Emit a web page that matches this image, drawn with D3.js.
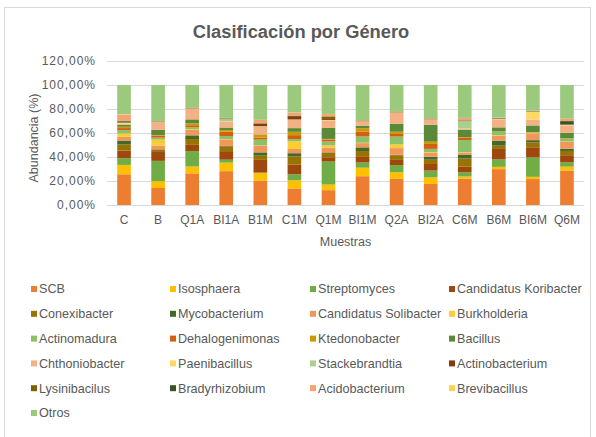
<!DOCTYPE html>
<html>
<head>
<meta charset="utf-8">
<script src="https://cdn.jsdelivr.net/npm/d3@7"></script>
<style>
  html, body { margin: 0; padding: 0; background: #fff; }
  svg { display: block; font-family: "Liberation Sans", Arial, sans-serif; }
</style>
</head>
<body>
<svg id="chart" width="596" height="437"></svg>
<script>
// Sample names (x axis)
const muestras = ["C", "B", "Q1A", "BI1A", "B1M", "C1M", "Q1M", "BI1M", "Q2A", "BI2A", "C6M", "B6M", "BI6M", "Q6M"];

// Relative abundance (%) per genus, one value per sample
const scb            = [25.6, 14.4, 26.9, 28.6, 20.8, 13.9, 12.5, 24.4, 22.2, 17.8, 22.2, 30.6, 22.2, 29.2];
const isosphaera     = [7.8, 5.8, 5.8, 7.2, 6.4, 6.9, 4.7, 7.2, 5.6, 5.6, 1.9, 1.9, 1.9, 3.3];
const streptomyces   = [5.6, 17.2, 13.1, 2.5, 0.5, 5.0, 19.4, 4.4, 6.1, 5.8, 3.6, 6.4, 16.7, 3.6];
const koribacter     = [6.4, 7.5, 5.3, 7.2, 10.8, 8.3, 3.6, 4.7, 4.4, 5.6, 4.7, 8.9, 8.6, 6.1];
const conexibacter   = [5.0, 1.7, 5.0, 3.9, 3.6, 6.7, 3.6, 5.0, 3.9, 3.6, 6.9, 2.8, 4.2, 3.6];
const mycobacterium  = [3.3, 0.5, 3.1, 0.5, 2.8, 2.8, 0.5, 3.1, 0.5, 2.5, 3.3, 4.2, 1.9, 1.9];
const solibacter     = [3.1, 3.3, 4.7, 5.6, 5.6, 3.6, 4.2, 3.6, 5.6, 3.6, 1.7, 4.4, 5.6, 5.8];
const burkholderia   = [2.8, 5.0, 0.5, 0.3, 0.3, 6.4, 1.7, 0.3, 3.1, 0.3, 0.3, 0.3, 0.3, 0.3];
const actinomadura   = [2.8, 1.7, 1.7, 2.5, 5.0, 1.9, 3.3, 5.3, 6.7, 2.8, 10.3, 2.8, 0.5, 2.2];
const dehalogenimonas= [1.7, 1.7, 1.7, 3.6, 1.7, 3.3, 1.7, 4.2, 2.2, 4.2, 2.2, 0.3, 0.3, 0.3];
const ktedonobacter  = [1.1, 0.5, 1.7, 1.4, 2.2, 2.8, 0.5, 2.8, 1.9, 1.9, 0.3, 0.3, 0.3, 0.3];
const bacillus       = [1.7, 4.4, 3.3, 2.2, 0.5, 3.1, 9.2, 1.9, 6.9, 14.4, 6.1, 3.3, 5.6, 4.7];
const chthoniobacter = [0.8, 6.1, 8.9, 5.0, 6.4, 6.9, 6.4, 3.6, 9.2, 4.2, 0.8, 6.9, 5.0, 6.1];
const paenibacillus  = [0.5, 0.2, 0.2, 0.2, 0.3, 0.2, 0.2, 0.2, 0.2, 0.2, 0.2, 0.2, 6.7, 0.2];
const stackebrandtia = [0.5, 0.2, 0.2, 1.9, 0.3, 0.2, 0.2, 0.2, 0.2, 0.2, 6.4, 0.2, 0.2, 0.2];
const actinobacterium= [0.5, 0.3, 0.3, 0.3, 2.2, 2.8, 0.8, 0.3, 0.3, 0.3, 0.3, 0.3, 0.3, 0.3];
const lysinibacilus  = [0.3, 0.2, 0.2, 0.2, 0.2, 0.3, 2.0, 0.2, 0.2, 0.2, 0.2, 0.2, 0.2, 0.2];
const bradyrhizobium = [0.6, 0.2, 0.2, 0.2, 0.2, 0.2, 0.2, 0.2, 0.2, 0.2, 0.2, 0.2, 0.2, 2.8];
const acidobacterium = [5.3, 0.2, 0.2, 0.2, 2.8, 2.5, 1.9, 0.2, 0.2, 0.2, 1.9, 0.2, 0.2, 1.9];
const brevibacillus  = [0.3, 0.1, 0.1, 0.1, 0.1, 0.1, 0.1, 0.1, 0.1, 0.1, 0.1, 0.1, 0.1, 0.1];
const otros          = [24.3, 30.5, 18.9, 27.8, 29.7, 23.1, 24.4, 29.7, 22.2, 28.1, 27.8, 27.8, 21.7, 28.6];

const generos = ["SCB", "Isosphaera", "Streptomyces", "Candidatus Koribacter",
  "Conexibacter", "Mycobacterium", "Candidatus Solibacter", "Burkholderia",
  "Actinomadura", "Dehalogenimonas", "Ktedonobacter", "Bacillus",
  "Chthoniobacter", "Paenibacillus", "Stackebrandtia", "Actinobacterium",
  "Lysinibacilus", "Bradyrhizobium", "Acidobacterium", "Brevibacillus", "Otros"];

const seriesValues = [scb, isosphaera, streptomyces, koribacter, conexibacter,
  mycobacterium, solibacter, burkholderia, actinomadura, dehalogenimonas,
  ktedonobacter, bacillus, chthoniobacter, paenibacillus, stackebrandtia,
  actinobacterium, lysinibacilus, bradyrhizobium, acidobacterium, brevibacillus, otros];

const colores = ["#ED7D31", "#FFC000", "#70AD47", "#9E480E", "#997300", "#43682B",
  "#F1975A", "#FFCD33", "#8CC168", "#D26012", "#CC9A00", "#5A8A39",
  "#F4B183", "#FFD966", "#A9D18E", "#843C0C", "#7F6000", "#375623",
  "#F3A470", "#FFD34D", "#9BC97E"];

const yTicks = [0, 0.2, 0.4, 0.6, 0.8, 1.0, 1.2];

// Table of rows, one per sample, for d3.stack
const rows = muestras.map((m, i) => {
  const r = { muestra: m };
  generos.forEach((g, j) => { r[g] = seriesValues[j][i]; });
  return r;
});

const svg = d3.select("#chart");
const textColor = "#595959";
const gridColor = "#D9D9D9";

// Outer chart frame
svg.append("rect")
  .attr("x", 4.5).attr("y", 7.5)
  .attr("width", 586).attr("height", 436)
  .attr("fill", "#fff").attr("stroke", "#D9D9D9").attr("stroke-width", 1);

const plot = { left: 107, right: 584, top: 61, bottom: 205 };

const x = d3.scaleBand().domain(muestras)
  .range([plot.left, plot.right]).paddingInner(0.6).paddingOuter(0.3);
const y = d3.scaleLinear().domain([0, 1.2]).range([plot.bottom, plot.top]);
const color = d3.scaleOrdinal().domain(generos).range(colores);

// Title
svg.append("text")
  .attr("x", 301).attr("y", 38)
  .attr("text-anchor", "middle")
  .attr("font-size", 18.3).attr("font-weight", "bold")
  .attr("fill", textColor)
  .text("Clasificación por Género");

// Gridlines and y axis labels
const fmt = v => d3.format(".2f")(v * 100).replace(".", ",") + "%";
const yAxis = d3.axisLeft(y).tickValues(yTicks).tickSize(-(plot.right - plot.left))
  .tickPadding(11).tickFormat(fmt);
const gy = svg.append("g").attr("transform", `translate(${plot.left},0)`).call(yAxis);
gy.select(".domain").remove();
gy.selectAll(".tick line").attr("stroke", gridColor).attr("shape-rendering", "crispEdges");
gy.selectAll(".tick text").attr("fill", textColor).attr("font-size", 12)
  .attr("font-family", "Liberation Sans, Arial, sans-serif").attr("letter-spacing", 1);

// Stacked 100% bars
const stack = d3.stack().keys(generos).offset(d3.stackOffsetExpand);
const stacked = stack(rows);

svg.append("g").selectAll("g")
  .data(stacked)
  .join("g")
  .attr("fill", d => color(d.key))
  .selectAll("rect")
  .data(d => d)
  .join("rect")
  .attr("x", d => x(d.data.muestra))
  .attr("width", x.bandwidth())
  .attr("y", d => y(d[1]))
  .attr("height", d => y(d[0]) - y(d[1]));

// X axis
const xAxis = d3.axisBottom(x).tickSize(0).tickPadding(10);
const gx = svg.append("g").attr("transform", `translate(0,${plot.bottom})`).call(xAxis);
gx.select(".domain").attr("stroke", gridColor).attr("d", `M${plot.left},0.5H${plot.right}`);
gx.selectAll(".tick text").attr("fill", textColor).attr("font-size", 12)
  .attr("font-family", "Liberation Sans, Arial, sans-serif");

// Axis titles
svg.append("text")
  .attr("x", (plot.left + plot.right) / 2).attr("y", 246)
  .attr("text-anchor", "middle").attr("font-size", 12.5).attr("fill", textColor)
  .text("Muestras");

svg.append("text")
  .attr("transform", `translate(38,${(plot.top + plot.bottom) / 2 + 5}) rotate(-90)`)
  .attr("text-anchor", "middle").attr("font-size", 12.5).attr("fill", textColor)
  .text("Abundancia (%)");

// Legend: four columns, filled row by row
const legendCols = [31, 170, 310, 449];
const legendRow0 = 289, legendRowStep = 24.8;
const legend = svg.append("g").selectAll("g")
  .data(generos)
  .join("g")
  .attr("transform", (d, i) => `translate(${legendCols[i % 4]},${legendRow0 + Math.floor(i / 4) * legendRowStep})`);
legend.append("rect")
  .attr("x", 0).attr("y", -3).attr("width", 6).attr("height", 6)
  .attr("fill", d => color(d));
legend.append("text")
  .attr("x", 8).attr("y", 0).attr("dy", "0.35em")
  .attr("font-size", 12.6).attr("fill", textColor)
  .text(d => d);
</script>
</body>
</html>
